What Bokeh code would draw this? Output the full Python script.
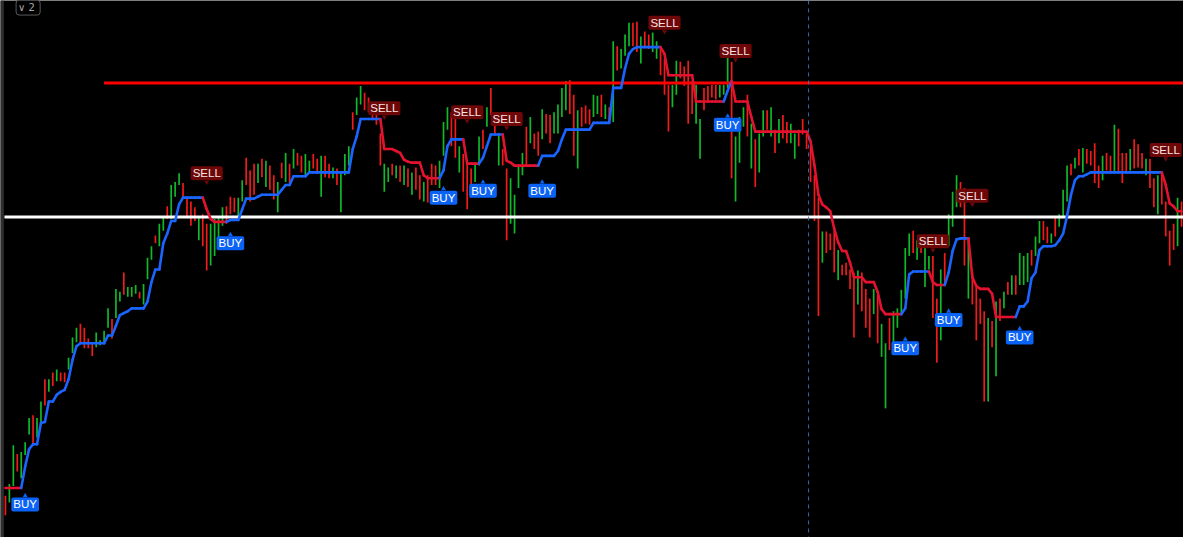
from bokeh.plotting import figure
from bokeh.models import ColumnDataSource, Range1d, Span, BoxAnnotation
from bokeh.core.properties import value
from bokeh.embed import file_html
from bokeh.resources import INLINE

# ---------------- data (arbitrary price units) ----------------
highs = [
    490, 502, 542, 533, 535, 545, 570, 573, 570, 587,
    610, 610, 617, 620, 617, 617, 632, 653, 663, 667,
    663, 652, 648, 658, 650, 660, 683, 672, 703, 700,
    720, 705, 705, 707, 700, 708, 735, 747, 758, 770,
    777, 788, 810, 813, 822, 812, 797, 793, 787, 778,
    780, 770, 770, 775, 777, 787, 788, 798, 797, 797,
    815, 838, 825, 832, 832, 837, 835, 830, 820, 813,
    833, 843, 832, 847, 843, 840, 842, 835, 842, 837,
    840, 840, 832, 828, 827, 822, 842, 850, 885, 900,
    912, 905, 900, 893, 890, 863, 832, 828, 832, 830,
    830, 830, 827, 823, 828, 820, 813, 820, 832, 830,
    835, 875, 890, 885, 880, 850, 842, 835, 827, 832,
    860, 867, 890, 910, 880, 863, 847, 827, 817, 800,
    830, 843, 870, 880, 863, 865, 888, 883, 882, 885,
    893, 910, 917, 918, 903, 887, 890, 892, 888, 903,
    902, 903, 893, 890, 958, 953, 950, 965, 977, 977,
    978, 963, 968, 965, 967, 958, 950, 940, 913, 913,
    938, 937, 932, 938, 917, 913, 878, 910, 912, 913,
    913, 913, 913, 943, 937, 860, 880, 890, 903, 873,
    857, 863, 887, 887, 890, 867, 878, 882, 875, 873,
    863, 867, 878, 863, 850, 820, 797, 762, 762, 760,
    763, 743, 728, 730, 723, 720, 722, 720, 703, 693,
    703, 697, 667, 647, 673, 680, 683, 702, 745, 760,
    763, 753, 748, 750, 737, 737, 693, 723, 740, 780,
    803, 820, 813, 807, 753, 720, 707, 693, 680, 673,
    670, 690, 693, 700, 710, 717, 717, 740, 737, 740,
    743, 757, 773, 773, 767, 760, 777, 780, 805, 830,
    832, 838, 847, 848, 847, 845, 853, 830, 840, 843,
    840, 872, 868, 843, 843, 847, 857, 852, 843, 837,
    837, 817, 820, 823, 793, 763, 770, 797, 793,
]
lows = [
    470, 483, 500, 515, 508, 532, 553, 543, 550, 563,
    583, 597, 603, 608, 608, 607, 620, 637, 648, 647,
    642, 642, 634, 643, 645, 648, 663, 652, 673, 690,
    697, 695, 695, 698, 693, 687, 713, 733, 750, 747,
    763, 775, 775, 798, 810, 797, 777, 768, 773, 753,
    747, 722, 727, 737, 753, 768, 770, 780, 782, 778,
    793, 810, 793, 800, 812, 818, 808, 805, 795, 782,
    817, 813, 812, 827, 830, 823, 820, 822, 827, 822,
    798, 818, 817, 817, 810, 782, 820, 830, 867, 882,
    893, 887, 885, 877, 872, 830, 803, 813, 820, 817,
    813, 810, 808, 800, 805, 795, 793, 792, 810, 810,
    807, 840, 867, 850, 838, 823, 803, 785, 797, 813,
    830, 847, 870, 882, 863, 830, 830, 753, 770, 760,
    807, 820, 830, 853, 847, 840, 857, 863, 853, 863,
    863, 880, 887, 883, 840, 827, 870, 873, 872, 880,
    883, 880, 878, 875, 875, 928, 930, 943, 953, 953,
    947, 935, 953, 950, 947, 940, 923, 903, 865, 890,
    903, 920, 912, 873, 883, 873, 837, 887, 895, 900,
    898, 900, 903, 910, 817, 793, 833, 870, 860, 827,
    808, 823, 860, 867, 860, 843, 853, 858, 853, 853,
    837, 850, 862, 847, 813, 773, 675, 730, 740, 743,
    720, 712, 717, 717, 703, 653, 687, 680, 663, 653,
    677, 647, 633, 580, 640, 647, 663, 677, 693, 737,
    740, 733, 740, 705, 723, 673, 627, 650, 707, 747,
    767, 787, 787, 727, 693, 687, 650, 667, 587, 587,
    643, 613, 670, 683, 697, 697, 697, 707, 707, 710,
    727, 737, 750, 753, 750, 750, 757, 767, 777, 793,
    820, 827, 830, 823, 832, 830, 812, 807, 815, 825,
    823, 823, 823, 812, 823, 825, 827, 828, 827, 820,
    807, 787, 780, 790, 757, 727, 743, 747, 767,
]
# g = up bar, r = down bar
bar_dirs = (
    "rggrgggrgg" "rgrgrrgggr" "rrrggggrgg" "rgggrgggrg" "grgggrrrrg"
    "rrggggrrrg" "grrrgrgrrg" "rgrgrrggrr" "grrgrgggrg" "grrrrrggrg"
    "rgrgrrgrrr" "gggrrgrrrg" "grgrrgrrgg" "ggrgrrgrrg" "gggrrgrrrg"
    "grgrgrgggr" "rgrrggrrrg" "grrrrggrrr" "rgggrgggrg" "rggrgrgrrg"
    "grrrrrrgrr" "rgrrrrgrrr" "grggrggggg" "rgrggrrgrg" "ggrrgrrrrg"
    "rgrgrgrggg" "rggrrgrggg" "rgrgrrrrgr" "rgrrrgrrrg" "rrgrrrrgr"
)
# trailing stop level per bar
stop = [
    498, 498, 498, 498, 498, 520, 538, 543, 543, 565,
    566, 587, 587, 594, 597, 599, 610, 630, 644, 647,
    647, 647, 647, 647, 647, 647, 655, 655, 665, 676,
    678, 680, 683, 683, 683, 683, 690, 710, 723, 723,
    750, 760, 773, 773, 790, 797, 797, 797, 797, 797,
    797, 785, 775, 772, 772, 772, 772, 774, 774, 774,
    785, 796, 796, 796, 798, 800, 800, 800, 800, 800,
    805, 810, 810, 819, 819, 819, 819, 823, 823, 823,
    823, 823, 823, 823, 823, 823, 823, 823, 847, 860,
    878, 878, 878, 878, 878, 878, 847, 847, 847, 845,
    843, 836, 834, 833, 833, 833, 820, 817, 817, 817,
    817, 825, 850, 857, 857, 857, 857, 832, 832, 832,
    832, 838, 850, 862, 862, 862, 862, 835, 833, 830,
    830, 830, 830, 830, 830, 830, 840, 840, 840, 840,
    845, 857, 867, 867, 867, 867, 867, 867, 867, 874,
    874, 874, 874, 874, 910, 910, 910, 930, 945, 950,
    952, 952, 952, 952, 952, 952, 952, 945, 923, 923,
    923, 923, 923, 923, 923, 896, 896, 896, 896, 896,
    896, 896, 896, 907, 917, 896, 896, 896, 896, 880,
    865, 865, 865, 865, 865, 865, 865, 865, 865, 865,
    865, 865, 865, 865, 855, 830, 800, 790, 787, 783,
    765, 751, 742, 742, 730, 715, 715, 715, 710, 710,
    710, 700, 682, 677, 677, 677, 677, 677, 683, 718,
    721, 721, 721, 721, 721, 710, 707, 707, 707, 720,
    742, 754, 755, 755, 755, 715, 706, 703, 703, 703,
    698, 674, 674, 674, 674, 674, 674, 685, 685, 690,
    714, 720, 743, 747, 747, 747, 748, 753, 760, 778,
    800, 815, 819, 819, 821, 823, 823, 823, 823, 823,
    823, 823, 823, 823, 823, 823, 823, 823, 823, 823,
    823, 823, 823, 823, 810, 791, 788, 783, 783,
]
signal_idx = [5, 51, 57, 96, 111, 117, 121, 127, 136, 167, 183, 185, 228, 235, 239, 245, 257, 294]
signal_type = ["BUY", "SELL", "BUY", "SELL", "BUY", "SELL", "BUY", "SELL", "BUY",
               "SELL", "BUY", "SELL", "BUY", "SELL", "BUY", "SELL", "BUY", "SELL"]
signal_price = [481, 822, 750, 889, 797, 885, 804, 878, 804, 977, 872, 948, 642, 752, 671, 799, 653, 846]
resistance_level = 915
resistance_start = 25
support_level = 777
session_break = 203.5

# ---------------- derived ----------------
n = len(highs)
idx = list(range(n))
sig_map = dict(zip(signal_idx, signal_type))
trend, cur = [], -1
for i in idx:
    if i in sig_map:
        cur = 1 if sig_map[i] == "BUY" else -1
    trend.append(cur)

UP, DOWN = "#10b82a", "#f21a1a"
BLUE, RED = "#1a64ff", "#e3122e"
BUY_BG, SELL_BG = "#0b63f6", "#6e0707"

p = figure(width=1183, height=537, x_range=Range1d(-1.25, n - 0.5), y_range=Range1d(447, 1000),
           x_axis_type=None, y_axis_type=None, output_backend="svg", toolbar_location=None,
           background_fill_color="#000000", border_fill_color="#000000", min_border=0)
p.grid.visible = False
p.outline_line_color = None

# left panel edge
p.add_layout(BoxAnnotation(right=-0.4, fill_color="#2e2e2e", fill_alpha=1, line_color=None))
# session separator
p.add_layout(Span(location=session_break, dimension="height", line_color="#3a74c4",
                  line_dash="4 4", line_width=1, line_alpha=0.9))

# bars
bars = ColumnDataSource(dict(x=idx, hi=highs, lo=lows,
                             c=[UP if d == "g" else DOWN for d in bar_dirs]))
p.segment(x0="x", y0="lo", x1="x", y1="hi", source=bars, line_color="c", line_width=1.7)

# horizontal levels
p.segment(x0=[-0.25], y0=[support_level], x1=[n - 0.5], y1=[support_level],
          line_color="#ffffff", line_width=3)
p.segment(x0=[resistance_start], y0=[resistance_level], x1=[n - 0.5], y1=[resistance_level],
          line_color="#ff0000", line_width=3)

# trailing stop
st = ColumnDataSource(dict(x0=idx[:-1], x1=idx[1:], y0=stop[:-1], y1=stop[1:],
                           c=[BLUE if trend[i] == 1 else RED for i in idx[1:]]))
p.segment(x0="x0", y0="y0", x1="x1", y1="y1", source=st, line_color="c",
          line_width=2.6, line_cap="round")

# signal labels with small pointer tips
is_buy = [t == "BUY" for t in signal_type]
tips = ColumnDataSource(dict(
    x=signal_idx,
    y=[pr + 9 if b else pr - 9 for pr, b in zip(signal_price, is_buy)],
    m=["triangle" if b else "inverted_triangle" for b in is_buy],
    c=[BUY_BG if b else SELL_BG for b in is_buy]))
p.scatter(x="x", y="y", marker="m", source=tips, size=5, fill_color="c", line_color=None)

lab = ColumnDataSource(dict(x=signal_idx, y=signal_price, t=signal_type,
                            bg=[BUY_BG if b else SELL_BG for b in is_buy],
                            tc=["#ffffff" if b else "#f6e4e4" for b in is_buy]))
p.text(x="x", y="y", text="t", source=lab, text_align="center", text_baseline="middle",
       text_color="tc", text_font=value("Liberation Sans"), text_font_size="11.5px",
       background_fill_color="bg", border_radius=2, padding=(2, 1))

# pane selector box (top-left)
p.text(x=[5.75], y=[985], text=["\u2228  2"], text_align="center", text_baseline="bottom",
       text_color="#a8a8a8", text_font=value("DejaVu Sans"), text_font_size="10px",
       background_fill_color="#000000", border_line_color="#5a5a5a", border_radius=3, padding=2)

open("out.html", "w").write(file_html(p, INLINE))
